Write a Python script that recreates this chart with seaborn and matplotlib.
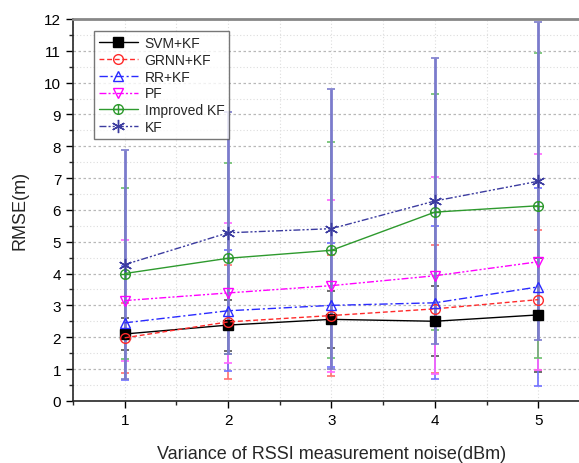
import numpy as np
import pandas as pd
import matplotlib
matplotlib.use("Agg")
import matplotlib.pyplot as plt
import seaborn as sns
from matplotlib.path import Path
from matplotlib.ticker import MultipleLocator

# --- data ---
noise = [1, 2, 3, 4, 5]
methods = ["SVM+KF", "GRNN+KF", "RR+KF", "PF", "Improved KF", "KF"]

svm_kf = [2.10, 2.38, 2.56, 2.50, 2.70]
grnn_kf = [1.98, 2.48, 2.68, 2.89, 3.18]
rr_kf = [2.45, 2.83, 3.00, 3.08, 3.58]
pf = [3.15, 3.39, 3.62, 3.93, 4.37]
improved_kf = [4.00, 4.48, 4.73, 5.93, 6.13]
kf = [4.28, 5.28, 5.41, 6.28, 6.90]

svm_kf_err = [0.5, 0.8, 0.9, 1.1, 1.8]
grnn_kf_err = [1.1, 1.8, 1.9, 2.0, 2.2]
rr_kf_err = [1.8, 1.9, 1.95, 2.4, 3.1]
pf_err = [1.9, 2.2, 2.7, 3.1, 3.4]
improved_kf_err = [2.7, 3.0, 3.4, 3.7, 4.8]
kf_err = [3.6, 3.8, 4.4, 4.5, 5.0]

means = [svm_kf, grnn_kf, rr_kf, pf, improved_kf, kf]
errs = [svm_kf_err, grnn_kf_err, rr_kf_err, pf_err, improved_kf_err, kf_err]

df = pd.DataFrame({
    "noise": noise * len(methods),
    "rmse": sum(means, []),
    "err": sum(errs, []),
    "method": [m for m in methods for _ in noise],
})

# circle with a plus inside for "Improved KF"
circ = Path.unit_circle()
plus = Path([(-1, 0), (1, 0), (0, -1), (0, 1)],
            [Path.MOVETO, Path.LINETO, Path.MOVETO, Path.LINETO])
oplus = Path.make_compound_path(circ, plus)

colors = ["black", "#ff2a2a", "#2a2aff", "#ff00ff", "#2e9a2e", "#3c3ca0"]
ebar_colors = ["#555555", "#ff7070", "#7070ff", "#ff66ff", "#6cbf6c", "#7b7bcc"]
markers = ["s", "o", "^", "v", oplus, (6, 2, 0)]
msizes = [6.5, 7, 7, 7, 7, 9.5]
dashes = [(None, None), (3.5, 2), (6, 2, 1.5, 2), (5, 1.5, 1.5, 1.5, 1.5, 1.5),
          (None, None), (5, 1.5, 1.5, 1.5, 1.5, 1.5)]

sns.set_style("ticks")
plt.rcParams["font.family"] = ["Liberation Sans", "DejaVu Sans"]

fig = plt.figure(figsize=(5.79, 4.64), dpi=100)
ax = fig.add_axes([0.126, 0.134, 0.893, 0.823])

# error bars first (KF bars drawn last so they sit on top)
for i, m in enumerate(methods):
    sub = df[df["method"] == m]
    ax.errorbar(sub["noise"], sub["rmse"], yerr=sub["err"], fmt="none",
                ecolor=ebar_colors[i], elinewidth=2.0 if m == "KF" else 1.2,
                capsize=3, capthick=1.2, zorder=2 + i * 0.01)

for i, m in enumerate(methods):
    sub = df[df["method"] == m]
    filled = m == "SVM+KF"
    sns.lineplot(data=sub, x="noise", y="rmse", ax=ax, color=colors[i],
                 marker=markers[i], markersize=msizes[i],
                 markerfacecolor=colors[i] if filled else "none",
                 markeredgecolor=colors[i], markeredgewidth=1.0,
                 linewidth=1.0, label=m, zorder=3)
    ln = ax.lines[-1]
    if dashes[i][0] is not None:
        ln.set_dashes(dashes[i])

ax.set_xlim(0.5, 5.5)
ax.set_ylim(0, 12)
ax.xaxis.set_major_locator(MultipleLocator(1))
ax.xaxis.set_minor_locator(MultipleLocator(0.5))
ax.yaxis.set_major_locator(MultipleLocator(1))
ax.yaxis.set_minor_locator(MultipleLocator(0.5))

ax.grid(which="major", axis="y", color="#b8b8b8", linestyle=(0, (2, 2)), linewidth=0.9)
ax.grid(which="minor", axis="y", color="#dddddd", linestyle=(0, (1, 2)), linewidth=0.8)
ax.grid(which="both", axis="x", color="#dddddd", linestyle=(0, (1, 2)), linewidth=0.8)
ax.set_axisbelow(True)

ax.tick_params(which="major", direction="out", length=5, width=1, labelsize=11, colors="black")
ax.tick_params(which="minor", direction="out", length=3, width=1)
ax.spines["top"].set_color("#888888")
ax.spines["top"].set_linewidth(2)
ax.spines["right"].set_visible(False)
ax.spines["left"].set_linewidth(1.2)
ax.spines["bottom"].set_linewidth(1.2)

ax.set_xlabel("Variance of RSSI measurement noise(dBm)", fontsize=13, labelpad=13)
ax.set_ylabel("RMSE(m)", fontsize=13, labelpad=11)

leg = ax.legend(loc="upper left", bbox_to_anchor=(0.035, 0.975), fontsize=10,
                frameon=True, fancybox=False, edgecolor="#555555",
                handlelength=2.8, handletextpad=0.5, labelspacing=0.2,
                borderpad=0.35, borderaxespad=0.2)
leg.get_frame().set_linewidth(1.0)

fig.savefig("out.png", dpi=100)
